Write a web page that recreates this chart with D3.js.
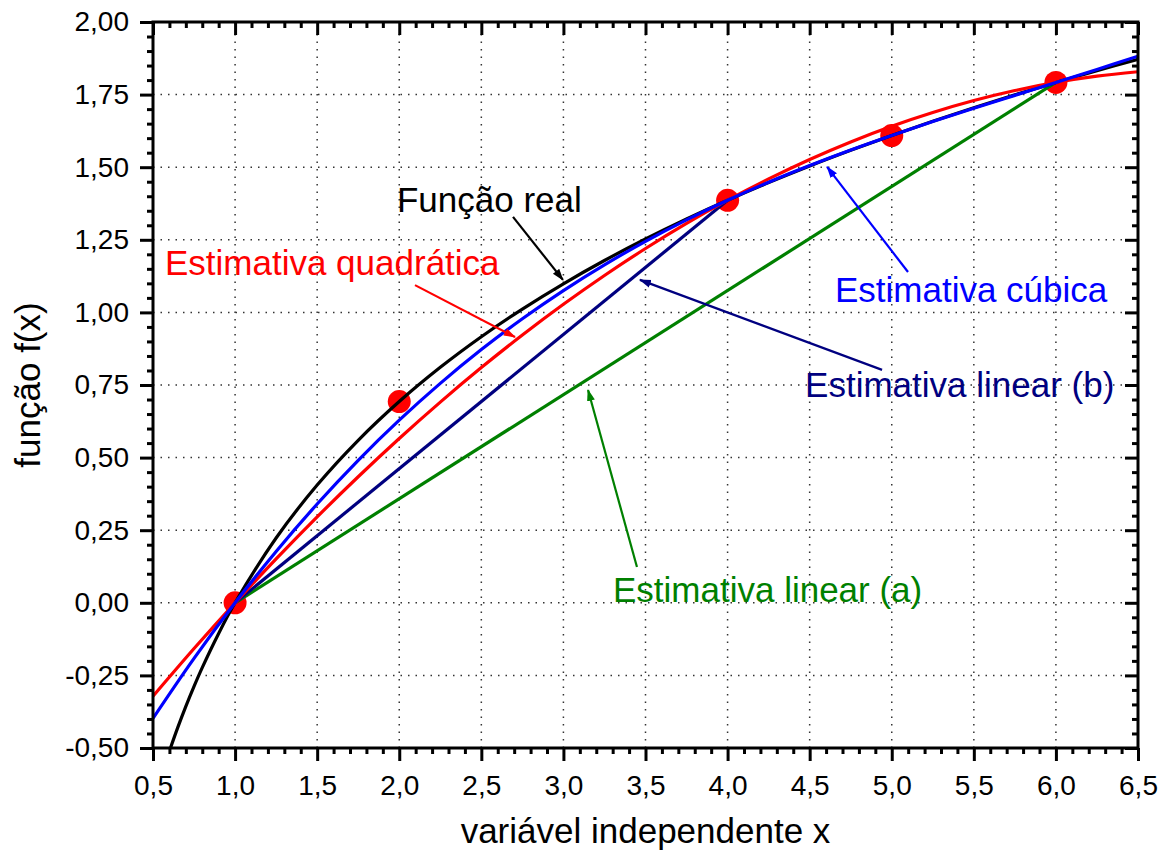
<!DOCTYPE html>
<html>
<head>
<meta charset="utf-8">
<script src="https://cdn.jsdelivr.net/npm/d3@7"></script>
<style>
  body { margin: 0; background: #fff; }
  svg { display: block; font-family: "Liberation Sans", Arial, sans-serif; }
</style>
</head>
<body>
<svg id="svg" width="1163" height="858"></svg>
<script>
// DATA //

const dataX = [1, 2, 4, 5, 6];
const dataY = [0, 0.693, 1.386, 1.609, 1.792];

// Função real
const realX = [0.6065, 0.65, 0.7, 0.75, 0.8, 0.9, 1, 1.25, 1.5, 1.75, 2, 2.25, 2.5, 2.75, 3, 3.25, 3.5, 3.75, 4, 4.25, 4.5, 4.75, 5, 5.25, 5.5, 5.75, 6, 6.25, 6.5];
const realY = [-0.5, -0.4308, -0.3567, -0.2877, -0.2231, -0.1054, 0, 0.2231, 0.4055, 0.5596, 0.6931, 0.8109, 0.9163, 1.0116, 1.0986, 1.1787, 1.2528, 1.3218, 1.3863, 1.4469, 1.5041, 1.5581, 1.6094, 1.6582, 1.7047, 1.7492, 1.7918, 1.8326, 1.8718];

// Estimativas quadrática e cúbica, same x grid
const estX = [0.5, 0.75, 1, 1.25, 1.5, 1.75, 2, 2.25, 2.5, 2.75, 3, 3.25, 3.5, 3.75, 4, 4.25, 4.5, 4.75, 5, 5.25, 5.5, 5.75, 6, 6.25, 6.5];
const quadY = [-0.3218, -0.1576, 0, 0.1511, 0.2959, 0.4341, 0.5658, 0.6910, 0.8099, 0.9221, 1.0279, 1.1272, 1.2201, 1.3064, 1.3863, 1.4597, 1.5267, 1.5871, 1.6410, 1.6884, 1.7295, 1.7640, 1.7920, 1.8135, 1.8287];
const cubY = [-0.3977, -0.1912, 0, 0.1769, 0.3402, 0.4906, 0.6288, 0.7556, 0.8719, 0.9781, 1.0752, 1.1637, 1.2448, 1.3187, 1.3863, 1.4485, 1.5059, 1.5594, 1.6094, 1.6570, 1.7028, 1.7474, 1.7918, 1.8364, 1.8823];

// Estimativas lineares
const linAX = [1, 6];
const linAY = [0, 1.792];
const linBX = [1, 4];
const linBY = [0, 1.386];

// Tick values
const xMajor = [0.5, 1, 1.5, 2, 2.5, 3, 3.5, 4, 4.5, 5, 5.5, 6, 6.5];
const yMajor = [-0.5, -0.25, 0, 0.25, 0.5, 0.75, 1, 1.25, 1.5, 1.75, 2];

// Annotation labels (data coordinates)
const labelText = ["Função real", "Estimativa quadrática", "Estimativa cúbica", "Estimativa linear (b)", "Estimativa linear (a)"];
const labelColor = ["#000000", "#ff0000", "#0000ff", "#000080", "#008000"];
const labelPos = [[1.986, 1.346], [0.573, 1.129], [4.654, 1.036], [4.472, 0.709], [3.302, 0.003]];
const arrowFrom = [[2.693, 1.329], [2.096, 1.094], [5.099, 1.139], [4.941, 0.802], [3.448, 0.123]];
const arrowTo = [[2.997, 1.112], [2.705, 0.915], [4.606, 1.501], [3.466, 1.112], [3.150, 0.733]];

// MAIN //

const svg = d3.select("#svg");
let margin = {top: 22, right: 25, bottom: 110, left: 153};
let width = 1138 - margin.left;
let height = 748 - margin.top;

const g = svg.append("g")
  .attr("transform", "translate(" + margin.left + "," + margin.top + ")");

let x = d3.scaleLinear().domain([0.5, 6.5]).range([0, width]);
let y = d3.scaleLinear().domain([-0.5, 2]).range([height, 0]);

const locale = d3.formatLocale({decimal: ",", thousands: ".", grouping: [3], currency: ["", ""], minus: "-"});
const fx = locale.format(".1f");
const fy = locale.format(".2f");

// minor ticks
let xMinor = d3.range(0.5, 6.5001, 0.1).filter(v => Math.abs(v * 2 - Math.round(v * 2)) > 1e-6);
let yMinor = d3.range(-0.5, 2.0001, 0.05).filter(v => Math.abs(v * 4 - Math.round(v * 4)) > 1e-6);

// Grid
g.append("g").selectAll("line")
  .data(xMajor.slice(1, -1))
  .enter().append("line")
  .attr("x1", d => x(d)).attr("x2", d => x(d))
  .attr("y1", 12).attr("y2", height)
  .attr("stroke", "#333").attr("stroke-width", 1.5).attr("stroke-dasharray", "1.5,6");

g.append("g").selectAll("line")
  .data(yMajor.slice(1, -1))
  .enter().append("line")
  .attr("y1", d => y(d)).attr("y2", d => y(d))
  .attr("x1", 0).attr("x2", width - 12)
  .attr("stroke", "#333").attr("stroke-width", 1.5).attr("stroke-dasharray", "1.5,6");

// Clip
svg.append("defs").append("clipPath").attr("id", "clip")
  .append("rect").attr("width", width).attr("height", height);

// Scatter points (under the lines)
g.append("g").selectAll("circle")
  .data(dataX)
  .enter().append("circle")
  .attr("cx", d => x(d))
  .attr("cy", (d, i) => y(dataY[i]))
  .attr("r", 11.5)
  .attr("fill", "#ff0000");

let line = d3.line().x(d => x(d[0])).y(d => y(d[1])).curve(d3.curveCatmullRom);
let zip = (xs, ys) => xs.map((v, i) => [v, ys[i]]);

let series = [
  {pts: zip(linAX, linAY), color: "#008000"},
  {pts: zip(linBX, linBY), color: "#000080"},
  {pts: zip(realX, realY), color: "#000000"},
  {pts: zip(estX, quadY), color: "#ff0000"},
  {pts: zip(estX, cubY), color: "#0000ff"}
];

g.append("g").attr("clip-path", "url(#clip)")
  .selectAll("path")
  .data(series)
  .enter().append("path")
  .attr("d", d => line(d.pts))
  .attr("fill", "none")
  .attr("stroke", d => d.color)
  .attr("stroke-width", 3.2);

// Arrow markers
let defs = svg.select("defs");
labelColor.forEach((c, i) => {
  defs.append("marker")
    .attr("id", "arrow" + i)
    .attr("viewBox", "0 -5 12 10")
    .attr("refX", 11).attr("refY", 0)
    .attr("markerWidth", 12).attr("markerHeight", 10)
    .attr("markerUnits", "userSpaceOnUse")
    .attr("orient", "auto")
    .append("path")
    .attr("d", "M0,-4L12,0L0,4Z")
    .attr("fill", c);
});

// Annotations
const ann = g.append("g");
labelText.forEach((t, i) => {
  ann.append("text")
    .attr("x", x(labelPos[i][0]))
    .attr("y", y(labelPos[i][1]))
    .attr("fill", labelColor[i])
    .style("font-size", "35px")
    .text(t);
  ann.append("line")
    .attr("x1", x(arrowFrom[i][0])).attr("y1", y(arrowFrom[i][1]))
    .attr("x2", x(arrowTo[i][0])).attr("y2", y(arrowTo[i][1]))
    .attr("stroke", labelColor[i])
    .attr("stroke-width", 2.2)
    .attr("marker-end", "url(#arrow" + i + ")");
});

// Axes
function styleAxis(sel) {
  sel.select(".domain").remove();
  sel.selectAll("line").attr("stroke", "#000").attr("stroke-width", 3);
  sel.selectAll("text").style("font-size", "28px").attr("fill", "#000");
}

g.append("g").attr("transform", `translate(0,${height})`)
  .call(d3.axisBottom(x).tickValues(xMajor).tickFormat(fx).tickSize(13).tickPadding(14))
  .call(styleAxis);
g.append("g").attr("transform", `translate(0,${height})`)
  .call(d3.axisBottom(x).tickValues(xMinor).tickFormat("").tickSize(6))
  .call(styleAxis);
g.append("g")
  .call(d3.axisLeft(y).tickValues(yMajor).tickFormat(fy).tickSize(13).tickPadding(11))
  .call(styleAxis);
g.append("g")
  .call(d3.axisLeft(y).tickValues(yMinor).tickFormat("").tickSize(6))
  .call(styleAxis);
g.append("g")
  .call(d3.axisTop(x).tickValues(xMajor).tickFormat("").tickSize(-13))
  .call(styleAxis);
g.append("g")
  .call(d3.axisTop(x).tickValues(xMinor).tickFormat("").tickSize(-6))
  .call(styleAxis);
g.append("g").attr("transform", `translate(${width},0)`)
  .call(d3.axisRight(y).tickValues(yMajor).tickFormat("").tickSize(-13))
  .call(styleAxis);
g.append("g").attr("transform", `translate(${width},0)`)
  .call(d3.axisRight(y).tickValues(yMinor).tickFormat("").tickSize(-6))
  .call(styleAxis);

// Frame
g.append("rect")
  .attr("width", width).attr("height", height)
  .attr("fill", "none").attr("stroke", "#000").attr("stroke-width", 3);

// Axis titles
svg.append("text")
  .attr("x", margin.left + width / 2)
  .attr("y", 843)
  .attr("text-anchor", "middle")
  .style("font-size", "35px")
  .text("variável independente x");

svg.append("text")
  .attr("transform", "translate(40," + (margin.top + y(0.75)) + ") rotate(-90)")
  .attr("text-anchor", "middle")
  .style("font-size", "35px")
  .text("função f(x)");
</script>
</body>
</html>
